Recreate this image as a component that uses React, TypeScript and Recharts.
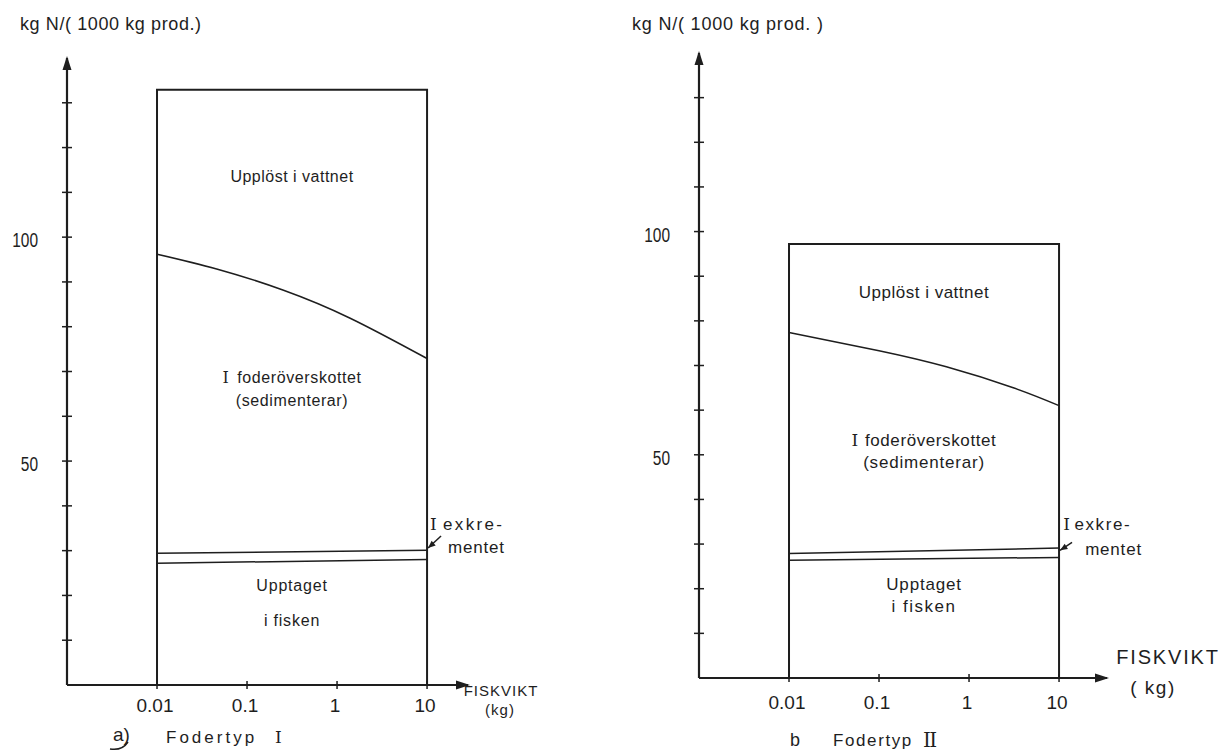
import React from 'react';
import { ComposedChart, XAxis, YAxis, Line, ReferenceArea, ReferenceDot } from 'recharts';

// ---------- data ----------
const xTickValues = [0.01, 0.1, 1, 10];
const yTickValues = [10, 20, 30, 40, 50, 60, 70, 80, 90, 100, 110, 120, 130];
const yLabelValues = [50, 100];
const boxX = [0.01, 10];

// Fodertyp I
const leftCurveX = [0.01, 0.046, 0.25, 1.4, 10];
const leftCurveY = [96.2, 92.9, 88.2, 81.9, 72.9];
const leftExkrY = [29.4, 30.1];
const leftFishY = [27.2, 28.0];
const leftBoxTop = 132.9;

// Fodertyp II
const rightCurveX = [0.01, 0.1, 0.56, 3.1, 10];
const rightCurveY = [77.4, 73.3, 69.7, 65.0, 61.0];
const rightExkrY = [27.9, 29.1];
const rightFishY = [26.4, 27.0];
const rightBoxTop = 97.2;

// ---------- styles ----------
const FONT = '"Liberation Sans", Arial, sans-serif';
const SERIF = '"DejaVu Serif", "Liberation Serif", serif';
const INK = '#1e1e1e';

const toPts = (xs: number[], ys: number[]) => xs.map((x, i) => ({ x, v: ys[i] }));

type Note = { x: number; y: number; t: string; roman?: string; romanDx?: number; anchor?: 'start' | 'middle' | 'end'; size: number; ls: number };

type Cfg = {
  left: number;
  width: number;
  margin: { top: number; right: number; bottom: number; left: number };
  xMax: number;
  boxTop: number;
  curve: { x: number; v: number }[];
  exkr: { x: number; v: number }[];
  fish: { x: number; v: number }[];
  xLabelDy: number;
  notes: Note[];
  arrowTipY: number;
  arrowDx: number;
  arrowDy: number;
};

const leftCfg: Cfg = {
  left: 0,
  width: 600,
  margin: { top: 58, right: 132, bottom: 36, left: 17 },
  xMax: 28.5,
  boxTop: leftBoxTop,
  curve: toPts(leftCurveX, leftCurveY),
  exkr: toPts(boxX, leftExkrY),
  fish: toPts(boxX, leftFishY),
  xLabelDy: 20,
  notes: [
    { x: 0.316, y: 113.6, t: 'Upplöst i vattnet', size: 16, ls: 0.5 },
    { x: 0.316, y: 68.8, t: 'foderöverskottet', roman: 'I', romanDx: 8, size: 16, ls: 0.6 },
    { x: 0.316, y: 63.6, t: '(sedimenterar)', size: 16, ls: 0.6 },
    { x: 0.316, y: 22.3, t: 'Upptaget', size: 16, ls: 0.8 },
    { x: 0.316, y: 14.5, t: 'i fisken', size: 16, ls: 0.8 },
    { x: 10.8, y: 35.9, t: 'exkre-', roman: 'I', romanDx: 4, anchor: 'start', size: 17, ls: 2.3 },
    { x: 17.1, y: 30.8, t: 'mentet', anchor: 'start', size: 17, ls: 0.8 },
  ],
  arrowTipY: 30.6,
  arrowDx: 14,
  arrowDy: 12,
};

const rightCfg: Cfg = {
  left: 600,
  width: 629,
  margin: { top: 53, right: 122, bottom: 43, left: 49 },
  xMax: 34.1,
  boxTop: rightBoxTop,
  curve: toPts(rightCurveX, rightCurveY),
  exkr: toPts(boxX, rightExkrY),
  fish: toPts(boxX, rightFishY),
  xLabelDy: 24,
  notes: [
    { x: 0.316, y: 86.5, t: 'Upplöst i vattnet', size: 17, ls: 0.5 },
    { x: 0.316, y: 53.4, t: 'foderöverskottet', roman: 'I', romanDx: 6, size: 17, ls: 0.6 },
    { x: 0.316, y: 48.3, t: '(sedimenterar)', size: 17, ls: 0.8 },
    { x: 0.316, y: 21.0, t: 'Upptaget', size: 17, ls: 0.8 },
    { x: 0.316, y: 16.1, t: 'i fisken', size: 17, ls: 1.5 },
    { x: 11.1, y: 34.5, t: 'exkre-', roman: 'I', romanDx: 3, anchor: 'start', size: 17, ls: 1.6 },
    { x: 19.5, y: 28.9, t: 'mentet', anchor: 'start', size: 17, ls: 0.8 },
  ],
  arrowTipY: 28.6,
  arrowDx: 13,
  arrowDy: 8,
};

function Panel({ cfg }: { cfg: Cfg }) {
  const yTick = (p: any) => {
    const { x, y, payload } = p;
    const lab = yLabelValues.includes(payload.value);
    const s = String(payload.value);
    return (
      <g>
        <line x1={x - 5} x2={x + 5} y1={y} y2={y} stroke={INK} strokeWidth={1.5} />
        {lab && (
          <text
            x={x - 29}
            y={y + 3}
            textAnchor="end"
            dominantBaseline="central"
            fontFamily={FONT}
            fontSize={20}
            fill={INK}
            textLength={s.length * 8.6}
            lengthAdjust="spacingAndGlyphs"
          >
            {s}
          </text>
        )}
      </g>
    );
  };
  const xTick = (p: any) => {
    const { x, y, payload } = p;
    return (
      <g>
        <line x1={x} x2={x} y1={y - 4} y2={y + 4} stroke={INK} strokeWidth={1.5} />
        <text x={x - 2} y={y + cfg.xLabelDy} textAnchor="middle" dominantBaseline="central" fontFamily={FONT} fontSize={19} fill={INK}>
          {String(payload.value)}
        </text>
      </g>
    );
  };
  return (
    <div style={{ position: 'absolute', left: cfg.left, top: 0 }}>
      <ComposedChart width={cfg.width} height={751} margin={cfg.margin}>
        <XAxis
          dataKey="x"
          type="number"
          scale="log"
          domain={[0.001, cfg.xMax]}
          allowDataOverflow
          ticks={xTickValues}
          interval={0}
          tickSize={0}
          tickMargin={0}
          tickLine={false}
          tick={xTick}
          height={30}
          axisLine={{ stroke: INK, strokeWidth: 2.2 }}
        />
        <YAxis
          type="number"
          domain={[0, 140]}
          allowDataOverflow
          ticks={yTickValues}
          interval={0}
          tickSize={0}
          tickMargin={0}
          tickLine={false}
          tick={yTick}
          width={50}
          axisLine={{ stroke: INK, strokeWidth: 2.2 }}
        />
        <ReferenceArea
          x1={boxX[0]}
          x2={boxX[1]}
          y1={0}
          y2={cfg.boxTop}
          fill="none"
          fillOpacity={0}
          stroke={INK}
          strokeWidth={2}
          ifOverflow="visible"
        />
        <Line data={cfg.curve} dataKey="v" type="natural" stroke={INK} strokeWidth={1.5} dot={false} isAnimationActive={false} />
        <Line data={cfg.exkr} dataKey="v" type="linear" stroke={INK} strokeWidth={1.5} dot={false} isAnimationActive={false} />
        <Line data={cfg.fish} dataKey="v" type="linear" stroke={INK} strokeWidth={1.5} dot={false} isAnimationActive={false} />
        {/* axis arrowheads */}
        <ReferenceDot
          x={cfg.xMax}
          y={0}
          r={0}
          ifOverflow="visible"
          shape={(p: any) => (
            <polygon points={`${p.cx + 2},${p.cy} ${p.cx - 12},${p.cy - 4.5} ${p.cx - 12},${p.cy + 4.5}`} fill={INK} />
          )}
        />
        <ReferenceDot
          x={0.001}
          y={140}
          r={0}
          ifOverflow="visible"
          shape={(p: any) => (
            <polygon points={`${p.cx},${p.cy - 2} ${p.cx - 4.5},${p.cy + 12} ${p.cx + 4.5},${p.cy + 12}`} fill={INK} />
          )}
        />
        {/* exkrement arrow */}
        <ReferenceDot
          x={boxX[1]}
          y={cfg.arrowTipY}
          r={0}
          ifOverflow="visible"
          shape={(p: any) => {
            const ang = Math.atan2(-cfg.arrowDy, cfg.arrowDx);
            const L = 8;
            const a1 = ang + 0.4;
            const a2 = ang - 0.4;
            return (
              <g>
                <line x1={p.cx + 1} y1={p.cy} x2={p.cx + cfg.arrowDx} y2={p.cy - cfg.arrowDy} stroke={INK} strokeWidth={1.5} />
                <polygon
                  points={`${p.cx + 1},${p.cy} ${p.cx + 1 + L * Math.cos(a1)},${p.cy + L * Math.sin(a1)} ${p.cx + 1 + L * Math.cos(a2)},${p.cy + L * Math.sin(a2)}`}
                  fill={INK}
                />
              </g>
            );
          }}
        />
        {cfg.notes.map((n, i) => (
          <ReferenceDot
            key={'n' + i}
            x={n.x}
            y={n.y}
            r={0}
            ifOverflow="visible"
            shape={(p: any) => (
              <text
                x={p.cx}
                y={p.cy}
                textAnchor={n.anchor || 'middle'}
                dominantBaseline="central"
                fontFamily={FONT}
                fontSize={n.size}
                letterSpacing={n.ls}
                fill={INK}
              >
                {n.roman && <tspan fontFamily={SERIF}>{n.roman}</tspan>}
                <tspan dx={n.romanDx || 0}>{n.t}</tspan>
              </text>
            )}
          />
        ))}
      </ComposedChart>
    </div>
  );
}

export default function App() {
  return (
    <div style={{ position: 'absolute', left: 0, top: 0, width: 1229, height: 751, background: '#fff', overflow: 'hidden' }}>
      <Panel cfg={leftCfg} />
      <Panel cfg={rightCfg} />
      <svg width={1229} height={751} style={{ position: 'absolute', left: 0, top: 0, pointerEvents: 'none' }}>
        <g fontFamily={FONT} fill={INK}>
          <text x={20} y={24} fontSize={18} letterSpacing={0.6} dominantBaseline="central">kg N/( 1000 kg prod.)</text>
          <text x={632} y={24} fontSize={18} letterSpacing={0.8} dominantBaseline="central">kg N/( 1000 kg  prod. )</text>

          <text x={501} y={690} fontSize={15} letterSpacing={1} textAnchor="middle" dominantBaseline="central">FISKVIKT</text>
          <text x={500} y={709} fontSize={15} letterSpacing={1} textAnchor="middle" dominantBaseline="central">(kg)</text>
          <text x={1168} y={657} fontSize={20} letterSpacing={1.8} textAnchor="middle" dominantBaseline="central">FISKVIKT</text>
          <text x={1153} y={687} fontSize={19} letterSpacing={1.5} textAnchor="middle" dominantBaseline="central">( kg)</text>

          <text x={113} y={734} fontSize={19} dominantBaseline="central">a)</text>
          <path d="M 110 749 Q 122 751 128 742" stroke={INK} strokeWidth={1.5} fill="none" />
          <text x={166} y={737} fontSize={17} letterSpacing={3} dominantBaseline="central">
            Fodertyp<tspan fontFamily={SERIF} dx={18}>I</tspan>
          </text>

          <text x={790} y={740} fontSize={18} dominantBaseline="central">b</text>
          <text x={833} y={740} fontSize={17} letterSpacing={1.6} dominantBaseline="central">
            Fodertyp<tspan fontFamily={SERIF} fontSize={20} dx={10} letterSpacing={-1.5}>II</tspan>
          </text>
        </g>
      </svg>
    </div>
  );
}
